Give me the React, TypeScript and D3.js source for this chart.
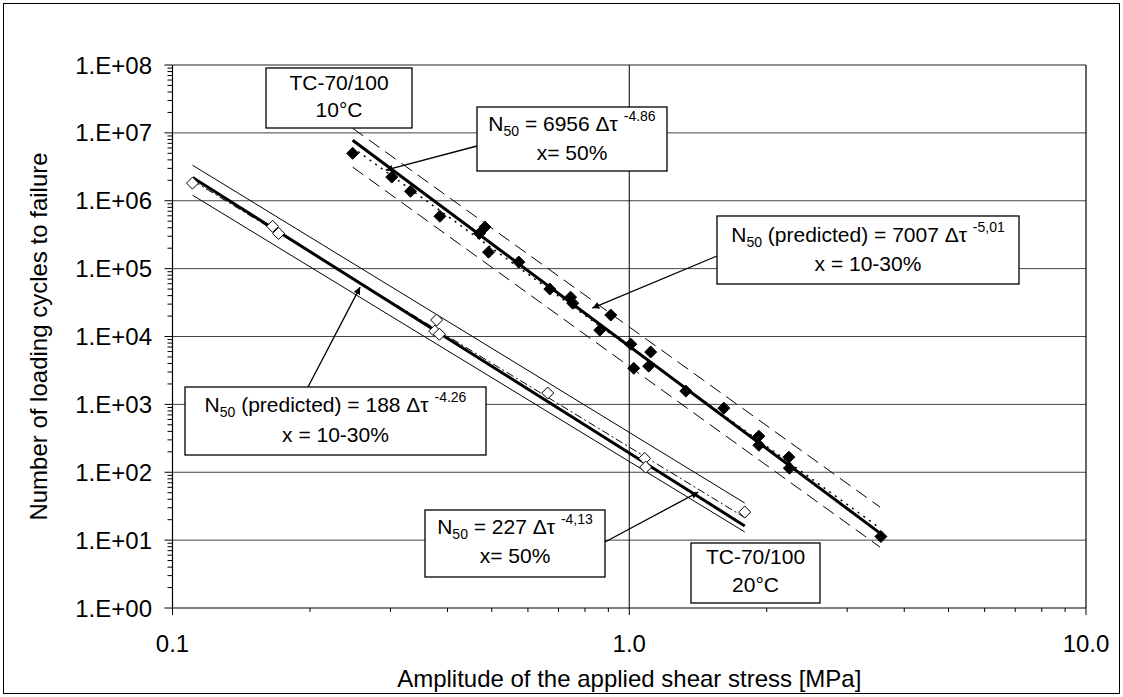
import React from "react";
import * as d3 from "d3";

// ---------- data ----------
// TC-70/100 at 10°C (filled diamonds)
const tau10 = [0.248, 0.302, 0.332, 0.385, 0.47, 0.483, 0.492, 0.573, 0.67, 0.744, 0.752, 0.862, 0.911, 1.008, 1.023, 1.103, 1.114, 1.33, 1.611, 1.922, 1.922, 2.236, 2.242, 3.556];
const n10 = [5.0e6, 2.23e6, 1.38e6, 5.9e5, 3.3e5, 4.1e5, 1.75e5, 1.25e5, 5.0e4, 3.8e4, 3.1e4, 1.24e4, 2.07e4, 7.7e3, 3.4e3, 3.66e3, 5.9e3, 1.57e3, 8.8e2, 3.4e2, 2.5e2, 1.67e2, 1.15e2, 11.3];

// TC-70/100 at 20°C (open diamonds)
const tau20 = [0.1106, 0.1656, 0.1707, 0.3787, 0.375, 0.384, 0.663, 1.081, 1.086, 1.79];
const n20 = [1.82e6, 4.2e5, 3.3e5, 1.75e4, 1.2e4, 1.08e4, 1.47e3, 1.6e2, 1.19e2, 25.9];

// fitted / predicted lines: [tau, N] end points
const pred10: [number, number][] = [[0.248, 7.8e6], [3.54, 12.7]];
const fit10: [number, number][] = [[0.255, 5.3e6], [3.54, 15.0]];
const upper10: [number, number][] = [[0.248, 1.17e7], [3.54, 30.7]];
const lower10: [number, number][] = [[0.248, 3.13e6], [3.54, 7.9]];

const pred20: [number, number][] = [[0.1106, 2.2e6], [1.79, 16.2]];
const fit20: [number, number][] = [[0.1106, 1.99e6], [1.79, 21.5]];
const upper20: [number, number][] = [[0.1106, 3.34e6], [1.79, 35.2]];
const lower20: [number, number][] = [[0.1106, 1.21e6], [1.79, 13.2]];

// arrow tips (data coordinates)
const tipFit10: [number, number] = [0.293, 2.82e6];
const tipPred10: [number, number] = [0.83, 2.62e4];
const tipPred20: [number, number] = [0.2575, 5.34e4];
const tipFit20: [number, number] = [1.416, 51];

const xTickValues = [0.1, 1, 10];
const xTickLabels = ["0.1", "1.0", "10.0"];
const yTickValues = [1, 1e1, 1e2, 1e3, 1e4, 1e5, 1e6, 1e7, 1e8];
const yTickLabels = ["1.E+00", "1.E+01", "1.E+02", "1.E+03", "1.E+04", "1.E+05", "1.E+06", "1.E+07", "1.E+08"];

const xTitle = "Amplitude of the applied shear stress [MPa]";
const yTitle = "Number of loading cycles to failure";

// ---------- layout ----------
const W = 1123;
const H = 697;
const L = 172.5;
const R = 1086;
const T = 65;
const B = 608;
const FONT = "'Liberation Sans', Arial, Helvetica, sans-serif";

const x = d3.scaleLog().domain([0.1, 10]).range([L, R]);
const y = d3.scaleLog().domain([1, 1e8]).range([B, T]);

const lineGen = d3
  .line<[number, number]>()
  .x((d) => x(d[0]))
  .y((d) => y(d[1]));

function diamond(cx: number, cy: number, r: number) {
  return `M${cx},${cy - r}L${cx + r},${cy}L${cx},${cy + r}L${cx - r},${cy}Z`;
}

function Box(props: {
  x: number; y: number; w: number; h: number;
  lines: React.ReactNode[]; baselines: number[];
}) {
  const cx = props.x + props.w / 2;
  return (
    <g>
      <rect x={props.x} y={props.y} width={props.w} height={props.h} fill="#fff" stroke="#000" strokeWidth={1.3} />
      {props.lines.map((ln, i) => (
        <text key={i} x={cx} y={props.y + props.baselines[i]} textAnchor="middle" fontSize={21} fontFamily={FONT} fill="#000">
          {ln}
        </text>
      ))}
    </g>
  );
}

function N50(rest: string, sup: string) {
  return [
    <tspan key="a">N</tspan>,
    <tspan key="b" fontSize={14} dy={5}>50</tspan>,
    <tspan key="c" dy={-5}>{rest}</tspan>,
    <tspan key="d" fontSize={14} dy={-10}>{sup}</tspan>,
  ];
}

export default function App() {
  const yMinor: number[] = [];
  for (let e = 0; e < 8; e++) for (let k = 2; k <= 9; k++) yMinor.push(k * Math.pow(10, e));
  const xMinor: number[] = [];
  for (let e = -1; e < 1; e++) for (let k = 2; k <= 9; k++) xMinor.push(k * Math.pow(10, e));

  const arrow = (from: [number, number], tip: [number, number]) => (
    <line x1={from[0]} y1={from[1]} x2={x(tip[0])} y2={y(tip[1])} stroke="#000" strokeWidth={1.3} markerEnd="url(#arr)" />
  );

  return (
    <svg width={W} height={H} style={{ position: "absolute", left: 0, top: 0, background: "#fff" }}>
      <defs>
        <marker id="arr" viewBox="0 0 10 10" refX={10} refY={5} markerWidth={10} markerHeight={7} markerUnits="userSpaceOnUse" orient="auto">
          <path d="M0,0L10,5L0,10Z" fill="#000" />
        </marker>
      </defs>
      <rect x={0} y={0} width={W} height={H} fill="#fff" />
      <rect x={3.5} y={3.5} width={W - 7} height={H - 7} fill="none" stroke="#000" strokeWidth={1} />

      {/* gridlines */}
      {yTickValues.slice(1, 8).map((v) => (
        <line key={v} x1={L} x2={R} y1={y(v)} y2={y(v)} stroke="#444" strokeWidth={1} />
      ))}
      <line x1={x(1)} x2={x(1)} y1={T} y2={B} stroke="#000" strokeWidth={1} />
      {/* plot frame top / right */}
      <line x1={L} x2={R} y1={T} y2={T} stroke="#222" strokeWidth={1.2} />
      <line x1={R} x2={R} y1={T} y2={B} stroke="#000" strokeWidth={1.2} />

      {/* axes */}
      <line x1={L} x2={L} y1={T} y2={B} stroke="#000" strokeWidth={1.2} />
      <line x1={L} x2={R} y1={B} y2={B} stroke="#000" strokeWidth={1.2} />
      {yMinor.map((v, i) => (
        <line key={"ym" + i} x1={L - 5} x2={L} y1={y(v)} y2={y(v)} stroke="#000" strokeWidth={1} />
      ))}
      {yTickValues.map((v, i) => (
        <g key={"yt" + i}>
          <line x1={L - 8} x2={L} y1={y(v)} y2={y(v)} stroke="#000" strokeWidth={1} />
          <text x={152} y={y(v) + 8.5} textAnchor="end" fontSize={24} fontFamily={FONT} fill="#000">
            {yTickLabels[i]}
          </text>
        </g>
      ))}
      {xMinor.map((v, i) => (
        <line key={"xm" + i} x1={x(v)} x2={x(v)} y1={B} y2={B + 4} stroke="#000" strokeWidth={1} />
      ))}
      {xTickValues.map((v, i) => (
        <g key={"xt" + i}>
          <line x1={x(v)} x2={x(v)} y1={B} y2={B + 7} stroke="#000" strokeWidth={1} />
          <text x={x(v)} y={652} textAnchor="middle" fontSize={24} fontFamily={FONT} fill="#000">
            {xTickLabels[i]}
          </text>
        </g>
      ))}
      <text x={(L + R) / 2} y={687} textAnchor="middle" fontSize={24} fontFamily={FONT} fill="#000">{xTitle}</text>
      <text transform={`translate(47,${(T + B) / 2}) rotate(-90)`} textAnchor="middle" fontSize={24} fontFamily={FONT} fill="#000">{yTitle}</text>

      {/* 20°C lines */}
      <path d={lineGen(upper20) || ""} fill="none" stroke="#000" strokeWidth={1} />
      <path d={lineGen(lower20) || ""} fill="none" stroke="#000" strokeWidth={1} />
      <path d={lineGen(fit20) || ""} fill="none" stroke="#000" strokeWidth={1} strokeDasharray="8,3,2,3" />
      <path d={lineGen(pred20) || ""} fill="none" stroke="#000" strokeWidth={3} />

      {/* 10°C lines */}
      <path d={lineGen(upper10) || ""} fill="none" stroke="#000" strokeWidth={1} strokeDasharray="13,7" />
      <path d={lineGen(lower10) || ""} fill="none" stroke="#000" strokeWidth={1} strokeDasharray="13,7" />
      <path d={lineGen(fit10) || ""} fill="none" stroke="#000" strokeWidth={1.5} strokeDasharray="2,5" />
      <path d={lineGen(pred10) || ""} fill="none" stroke="#000" strokeWidth={3} />

      {/* markers */}
      {tau20.map((t, i) => (
        <path key={"o" + i} d={diamond(x(t), y(n20[i]), 6)} fill="#fff" stroke="#000" strokeWidth={1} />
      ))}
      {tau10.map((t, i) => (
        <path key={"f" + i} d={diamond(x(t), y(n10[i]), 6)} fill="#000" stroke="#000" strokeWidth={1} />
      ))}

      {/* leader arrows */}
      {arrow([477, 146], tipFit10)}
      {arrow([717, 256], tipPred10)}
      {arrow([308, 387], tipPred20)}
      {arrow([605, 542], tipFit20)}

      {/* annotation boxes */}
      <Box x={266} y={68} w={146} h={60} baselines={[21.5, 49]} lines={["TC-70/100", "10°C"]} />
      <Box x={477} y={107} w={190} h={64} baselines={[24, 53]} lines={[N50(" = 6956 Δτ ", "-4.86"), "x= 50%"]} />
      <Box x={717} y={216} w={302} h={68} baselines={[26, 55]} lines={[N50(" (predicted) = 7007 Δτ ", "-5,01"), "x = 10-30%"]} />
      <Box x={185} y={387} w={301} h={68} baselines={[25, 55]} lines={[N50(" (predicted) = 188 Δτ ", "-4.26"), "x = 10-30%"]} />
      <Box x={425} y={510} w={180} h={67} baselines={[24, 53]} lines={[N50(" = 227 Δτ ", "-4,13"), "x= 50%"]} />
      <Box x={691} y={543} w={129} h={60} baselines={[21, 49]} lines={["TC-70/100", "20°C"]} />
    </svg>
  );
}
